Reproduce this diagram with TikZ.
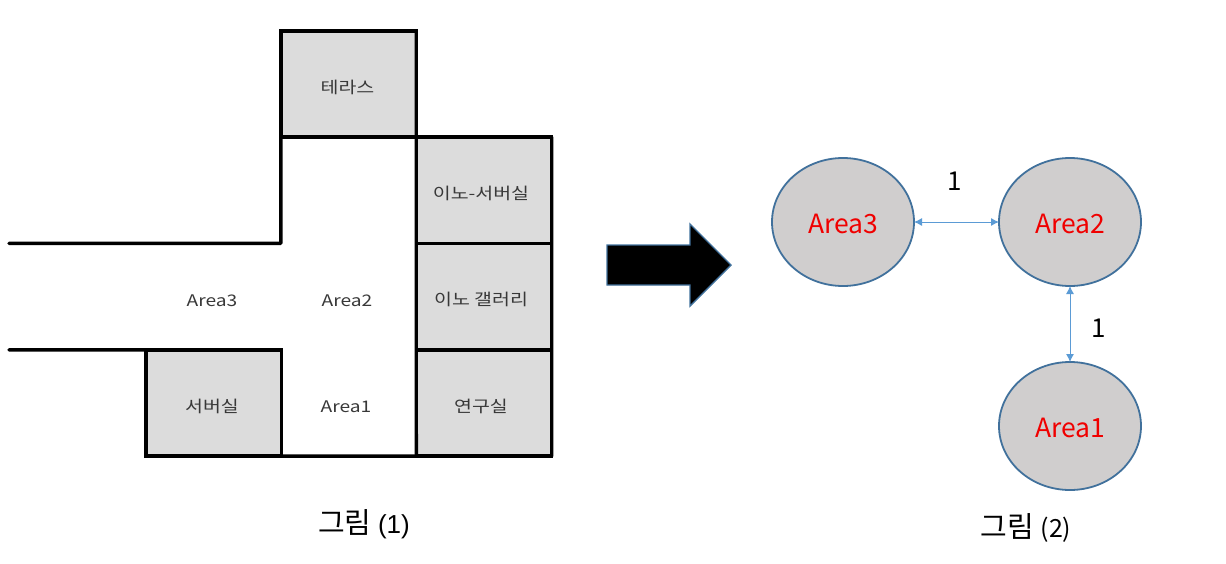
\documentclass[tikz,border=0pt]{standalone}
\usepackage{fontspec}
\setmainfont{Noto Sans CJK KR}
\newfontfamily\lsans{Liberation Sans}
\newfontfamily\planfont[FakeStretch=1.2]{Noto Sans CJK KR}
\usetikzlibrary{shapes.geometric,arrows.meta}
\definecolor{roomgray}{HTML}{DCDCDC}
\definecolor{circgray}{HTML}{D0CECE}
\definecolor{circline}{HTML}{41719C}
\definecolor{linkblue}{HTML}{5B9BD5}
\definecolor{areared}{HTML}{F00000}
\definecolor{plantext}{HTML}{383838}
\newcommand{\rtext}[2][-2pt]{\hspace*{#1}\raisebox{-9pt}[0pt][0pt]{#2}}
\newcommand{\ctext}[1]{\raisebox{-11pt}[0pt][0pt]{#1}}
\tikzset{
  x=1pt,y=-1pt,
  room/.style={draw=black,fill=roomgray,line width=3.4pt,outer sep=0pt,minimum width=135.4pt,minimum height=106.3pt,inner sep=0pt,font=\planfont\fontsize{16.2}{18}\selectfont,text=plantext},
  areatext/.style={inner sep=0pt,font=\planfont\fontsize{16}{18}\selectfont,text=plantext},
  wall/.style={line width=3.4pt,line cap=round,line join=round},
  areanode/.style={ellipse,draw=circline,fill=circgray,line width=1.8pt,outer sep=0pt,minimum width=142pt,minimum height=128pt,inner sep=0pt,text=areared,font=\fontsize{26.5}{30}\selectfont},
  link/.style={draw=linkblue,line width=0.9pt,{Latex[length=8pt,width=8pt]}-{Latex[length=8pt,width=8pt]}},
  weight/.style={inner sep=0pt,font=\fontsize{26}{30}\selectfont},
  caption/.style={inner sep=0pt,font=\fontsize{29}{32}\selectfont},
  bigarrow/.style={draw=circline,fill=black,line width=1.4pt,line join=miter},
}
\begin{document}
\begin{tikzpicture}
\useasboundingbox (0,0) rectangle (1226,563);
\node[room] (terrace) at (348.5,84) {\rtext{테라스}};
\node[room] (inno) at (484,190.3) {\rtext[-6pt]{이노-서버실}};
\node[room] (gallery) at (484,296.7) {\rtext[-6pt]{이노 갤러리}};
\node[room] (lab) at (484,403) {\rtext[-6pt]{연구실}};
\node[room] (server) at (213.5,403) {\rtext[-3pt]{서버실}};
\coordinate (w1) at (9,243.4);
\coordinate (w2) at (terrace.west |- w1);
\coordinate (w3) at (9,349.85);
\draw[wall] (w1) -- (w2) -- (terrace.north west) -- (terrace.north east) -- (lab.south west);
\draw[wall] (terrace.south west) -- (inno.north east) -- (lab.south east) -- (server.south west) -- (server.north west) -- (w3);
\draw[wall] (server.north west) -- (server.north east) -- (server.south east);
\node[areatext] (t3) at (212,301) {Area3};
\node[areatext] (t2) at (347,301) {Area2};
\node[areatext] (t1) at (346,407) {Area1};
\node[caption] (cap1) at (364,524) {그림 {\lsans\fontsize{26}{30}\selectfont (1)}};
\draw[bigarrow] (607,245) -- (690,245) -- (690,224) -- (731,265) -- (690,306) -- (690,285) -- (607,285) -- cycle;
\node[areanode] (a3) at (843,222) {\ctext{Area3}};
\node[areanode] (a2) at (1070,222) {\ctext{Area2}};
\node[areanode] (a1) at (1070,426) {\ctext{Area1}};
\draw[link] (a3) -- (a2);
\draw[link] (a2) -- (a1);
\node[weight] (w32) at (955,181) {1};
\node[weight] (w21) at (1099,328) {1};
\node[caption] (cap2) at (1026,528) {그림 {\fontsize{25}{30}\selectfont (2)}};
\end{tikzpicture}
\end{document}
